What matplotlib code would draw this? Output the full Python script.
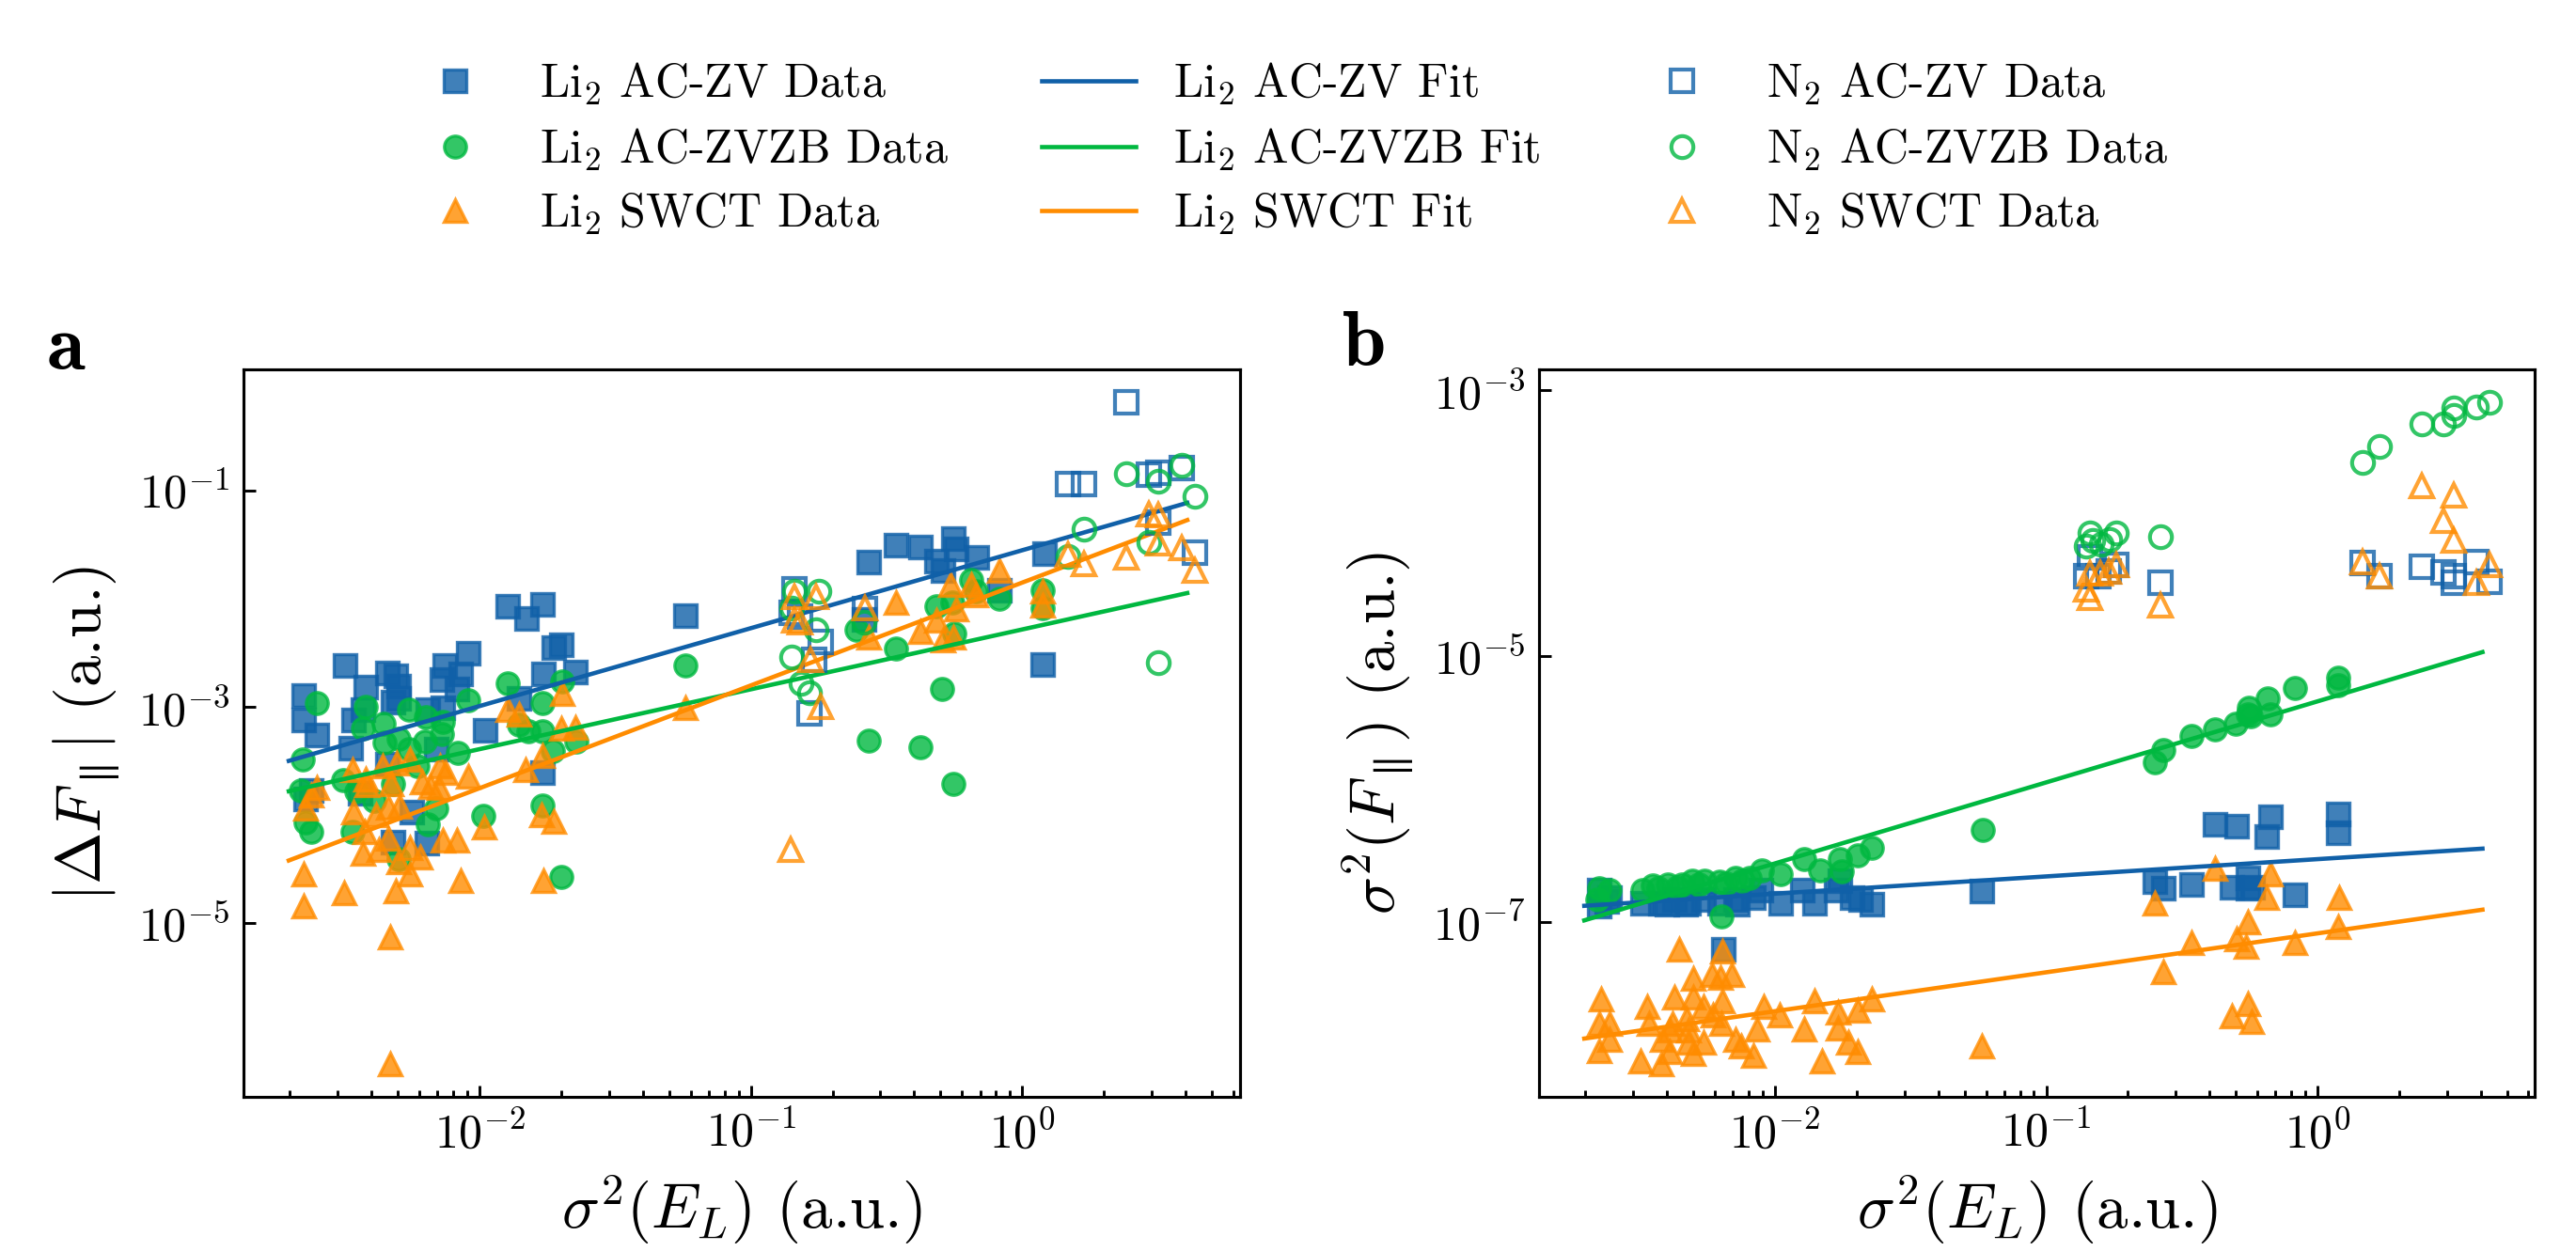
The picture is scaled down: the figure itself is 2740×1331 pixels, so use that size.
import numpy as np
import matplotlib
matplotlib.use("Agg")
import matplotlib.pyplot as plt
from matplotlib.ticker import NullLocator, LogFormatterSciNotation, FixedLocator

plt.rcParams.update({
    "font.family": "serif",
    "font.serif": ["cmr10"],
    "mathtext.fontset": "cm",
    "axes.formatter.use_mathtext": True,
})

# ---------------- data (log10 of x = sigma^2(E_L), log10 of y) ----------------
# Panel a : |Delta F_par|
a_li2_zv = [(-1.897,-2.072),(-1.828,-2.18),(-1.769,-2.05),(-1.24,-2.16),(-1.727,-2.45),(-1.70,-2.43),
            (-1.766,-2.70),(-1.646,-2.68),(-2.042,-2.51),(-2.128,-2.62),(-2.07,-2.70),(-2.14,-2.75),
            (-2.083,-2.84),(-2.495,-2.62),(-2.34,-2.69),(-2.31,-2.71),(-2.42,-2.82),(-2.30,-2.81),
            (-2.647,-2.90),(-2.32,-2.96),(-2.30,-2.92),(-2.43,-3.03),(-2.19,-3.03),(-2.136,-3.01),
            (-1.855,-2.92),(-2.65,-3.12),(-2.60,-3.26),(-2.465,-3.12),(-1.98,-3.22),(-2.476,-3.38),
            (-2.16,-3.39),(-1.769,-3.61),(-2.62,-3.77),(-2.64,-3.85),(-2.44,-3.80),(-2.25,-3.97),
            (-2.32,-4.25),(-2.195,-4.26),(-2.34,-3.53),(-0.566,-1.666),(-0.465,-1.507),(-0.374,-1.527),
            (-0.254,-1.449),(-0.242,-1.545),(-0.315,-1.652),(-0.292,-1.739),(-0.169,-1.623),
            (0.081,-1.588),(-0.083,-1.927),(0.075,-2.609),(-0.584,-2.19)]
a_li2_zvzb = [(-2.60,-2.97),(-2.42,-3.00),(-2.26,-3.03),(-2.354,-3.16),(-2.43,-3.20),(-2.198,-3.10),
              (-2.135,-3.14),(-2.14,-3.25),(-2.042,-2.94),(-1.897,-2.78),(-1.769,-2.97),(-1.696,-2.77),
              (-1.855,-3.17),(-1.82,-3.23),(-1.77,-3.23),(-1.24,-2.62),(-1.643,-3.32),(-1.73,-3.41),
              (-2.08,-3.43),(-2.651,-3.49),(-2.502,-3.68),(-2.456,-3.78),(-2.66,-3.77),(-2.64,-4.07),
              (-2.62,-4.16),(-2.47,-4.16),(-2.39,-3.87),(-2.16,-3.94),(-2.19,-4.09),(-2.30,-4.41),
              (-1.987,-4.01),(-1.77,-3.91),(-1.70,-4.57),(-2.26,-3.39),(-2.35,-3.33),(-2.30,-3.30),
              (-2.20,-3.32),(-2.23,-3.55),(-2.32,-3.71),(-0.61,-2.29),(-0.466,-2.46),(-0.317,-2.07),
              (-0.258,-2.04),(-0.25,-2.32),(-0.189,-1.826),(-0.084,-2.00),(0.075,-1.927),(0.075,-2.087),
              (-0.295,-2.84),(-0.566,-3.31),(-0.375,-3.37),(-0.254,-3.71),(-0.17,-1.93)]
a_li2_swct = [(-1.696,-2.88),(-1.898,-3.03),(-1.855,-3.07),(-1.24,-3.01),(-1.70,-3.20),(-1.646,-3.19),
              (-2.469,-3.58),(-2.42,-3.67),(-2.357,-3.55),(-2.304,-3.52),(-2.258,-3.49),(-2.416,-3.72),
              (-2.325,-3.71),(-2.213,-3.70),(-2.18,-3.74),(-2.145,-3.55),(-2.125,-3.61),(-2.042,-3.64),
              (-2.60,-3.75),(-2.62,-3.82),(-2.64,-3.94),(-2.465,-3.97),(-2.38,-4.00),(-2.335,-3.93),
              (-2.295,-3.92),(-2.425,-4.16),(-2.335,-4.22),(-2.135,-4.23),(-2.082,-4.23),(-2.256,-4.30),
              (-2.22,-4.39),(-2.43,-4.36),(-2.37,-4.32),(-2.30,-4.43),(-2.256,-4.55),(-2.65,-4.55),
              (-2.50,-4.72),(-2.31,-4.70),(-2.07,-4.61),(-1.766,-4.61),(-2.65,-4.84),(-2.33,-5.13),
              (-2.33,-6.30),(-1.984,-4.11),(-1.83,-3.58),(-1.77,-3.45),(-1.773,-4.00),(-1.727,-4.06),
              (-2.15,-3.75),(-0.466,-2.04),(-0.375,-2.31),(-0.317,-2.20),(-0.293,-2.38),(-0.254,-2.36),
              (-0.245,-2.10),(-0.263,-1.87),(-0.189,-1.87),(-0.17,-1.97),(-0.084,-1.74),(0.075,-1.93),
              (0.075,-2.06),(-0.566,-2.36)]
a_n2_zv = [(-0.839,-1.913),(-0.851,-2.13),(-0.82,-2.17),(-0.741,-2.405),(-0.766,-2.565),(-0.784,-3.06),
           (-0.578,-2.10),(0.169,-0.94),(0.229,-0.94),(0.385,-0.188),(0.466,-0.855),(0.502,-0.84),
           (0.588,-0.797),(0.502,-1.30),(0.636,-1.58)]
a_n2_zvzb = [(-0.839,-1.93),(-0.851,-2.087),(-0.748,-1.93),(-0.76,-2.29),(-0.851,-2.54),(-0.815,-2.78),
             (-0.784,-2.87),(-0.584,-2.22),(0.169,-1.61),(0.229,-1.36),(0.385,-0.846),(0.466,-1.48),
             (0.502,-0.913),(0.588,-0.768),(0.636,-1.058),(0.502,-2.59)]
a_n2_swct = [(-0.839,-1.985),(-0.839,-2.20),(-0.76,-1.985),(-0.82,-2.22),(-0.78,-2.565),(-0.741,-3.00),
             (-0.578,-2.087),(-0.853,-4.32),(0.169,-1.59),(0.229,-1.68),(0.385,-1.62),(0.466,-1.217),
             (0.502,-1.23),(0.502,-1.49),(0.588,-1.536),(0.636,-1.74)]

# Panel b : sigma^2(F_par)
b_li2_zv = [(-2.649,-6.76),(-2.61,-6.82),(-2.649,-6.88),(-2.49,-6.86),(-2.424,-6.86),(-2.371,-6.83),
            (-2.318,-6.86),(-2.265,-6.83),(-2.206,-6.86),(-2.146,-6.83),(-2.08,-6.82),(-2.053,-6.76),
            (-1.981,-6.86),(-1.90,-6.76),(-1.855,-6.86),(-1.775,-6.76),(-1.762,-6.69),(-1.716,-6.82),
            (-1.683,-6.83),(-1.643,-6.87),(-1.239,-6.77),(-2.192,-7.21),(-2.62,-6.85),(-2.40,-6.87),
            (-2.33,-6.87),(-2.14,-6.87),(-0.599,-6.70),(-0.568,-6.75),(-0.466,-6.72),(-0.377,-6.27),
            (-0.297,-6.28),(-0.173,-6.21),(-0.188,-6.36),(-0.317,-6.74),(-0.255,-6.67),(-0.255,-6.75),
            (-0.24,-6.74),(-0.083,-6.80),(0.078,-6.19),(0.075,-6.33)]
b_li2_zvzb = [(-2.649,-6.75),(-2.61,-6.76),(-2.655,-6.83),(-2.49,-6.76),(-2.45,-6.73),(-2.397,-6.72),
              (-2.344,-6.72),(-2.305,-6.69),(-2.26,-6.69),(-2.206,-6.70),(-2.146,-6.67),(-2.093,-6.67),
              (-2.047,-6.61),(-1.981,-6.64),(-2.199,-6.96),(-1.894,-6.53),(-1.835,-6.61),(-1.762,-6.53),
              (-1.755,-6.62),(-1.696,-6.50),(-1.643,-6.44),(-1.235,-6.31),(-2.43,-6.75),(-2.36,-6.74),
              (-2.28,-6.72),(-2.18,-6.71),(-2.12,-6.69),(-0.599,-5.80),(-0.568,-5.71),(-0.466,-5.60),
              (-0.377,-5.55),(-0.303,-5.51),(-0.255,-5.44),(-0.253,-5.39),(-0.245,-5.45),(-0.185,-5.32),
              (-0.173,-5.44),(-0.083,-5.24),(0.075,-5.16),(0.078,-5.22)]
b_li2_swct = [(-2.355,-7.21),(-2.194,-7.22),(-2.302,-7.43),(-2.232,-7.40),(-2.20,-7.42),(-2.159,-7.40),
              (-2.642,-7.58),(-2.37,-7.57),(-2.302,-7.57),(-2.194,-7.60),(-2.265,-7.64),(-2.47,-7.64),
              (-2.043,-7.64),(-1.855,-7.60),(-1.643,-7.58),(-2.649,-7.77),(-2.61,-7.77),(-2.465,-7.77),
              (-2.378,-7.77),(-2.325,-7.73),(-2.23,-7.70),(-2.196,-7.77),(-1.984,-7.70),(-1.768,-7.68),
              (-1.696,-7.67),(-2.39,-7.82),(-2.32,-7.82),(-2.066,-7.81),(-1.894,-7.81),(-1.768,-7.80),
              (-2.61,-7.89),(-2.415,-7.89),(-2.32,-7.91),(-2.265,-7.91),(-2.146,-7.89),(-2.126,-7.94),
              (-2.649,-7.97),(-2.39,-7.98),(-2.30,-7.99),(-2.08,-8.01),(-1.729,-7.91),(-1.696,-7.98),
              (-2.497,-8.05),(-2.42,-8.07),(-1.828,-8.05),(-1.239,-7.94),(-0.377,-6.60),(-0.173,-6.64),
              (-0.599,-6.86),(-0.188,-6.82),(0.081,-6.82),(-0.255,-7.00),(-0.297,-7.13),(-0.466,-7.16),
              (-0.265,-7.19),(-0.083,-7.16),(0.075,-7.04),(-0.568,-7.38),(-0.317,-7.71),(-0.255,-7.62),
              (-0.244,-7.75)]
b_n2_zv = [(-0.84,-4.26),(-0.852,-4.40),(-0.808,-4.40),(-0.741,-4.31),(-0.77,-4.36),(-0.58,-4.45),
           (0.167,-4.30),(0.229,-4.40),(0.386,-4.33),(0.466,-4.37),(0.503,-4.40),(0.503,-4.45),
           (0.587,-4.29),(0.634,-4.44)]
b_n2_zvzb = [(-0.84,-4.07),(-0.852,-4.17),(-0.83,-4.13),(-0.797,-4.16),(-0.766,-4.12),(-0.741,-4.07),
             (-0.58,-4.10),(0.167,-3.54),(0.229,-3.42),(0.386,-3.25),(0.466,-3.25),(0.503,-3.19),
             (0.503,-3.13),(0.587,-3.125),(0.634,-3.09)]
b_n2_swct = [(-0.84,-4.38),(-0.852,-4.50),(-0.84,-4.56),(-0.80,-4.38),(-0.77,-4.36),(-0.741,-4.31),
             (-0.58,-4.62),(0.167,-4.29),(0.229,-4.40),(0.386,-3.72),(0.503,-3.79),(0.466,-3.98),
             (0.503,-4.13),(0.587,-4.45),(0.634,-4.31)]

# Power-law fits: log10(y) = slope * log10(x) + intercept  (zv, zvzb, swct)
fit_x_range = [1.98e-3, 4.06]
a_fit_slope = [0.72, 0.553, 0.95]
a_fit_intercept = [-1.554, -2.286, -1.853]
b_fit_slope = [0.13, 0.610, 0.293]
b_fit_intercept = [-6.529, -5.341, -7.088]

names = ["AC-ZV", "AC-ZVZB", "SWCT"]
colors = ["#1060a8", "#00b840", "#ff8c00"]
markers = ["s", "o", "^"]

# ---------------- figure ----------------
W, H = 2740, 1331
DPI = 300
fig = plt.figure(figsize=(W / DPI, H / DPI), dpi=DPI)
ax_a = fig.add_axes([259 / W, 1 - 1167 / H, 1060 / W, 774 / H])
ax_b = fig.add_axes([1637 / W, 1 - 1167 / H, 1059 / W, 774 / H])

def xy(pairs):
    arr = np.array(pairs, dtype=float)
    return 10 ** arr[:, 0], 10 ** arr[:, 1]

MS = 5.6
def draw(ax, li2, n2, slopes, intercepts):
    for pts, c, m, n in zip(li2, colors, markers, names):
        x, y = xy(pts)
        ax.plot(x, y, ls="none", marker=m, ms=MS, mfc=c, mec=c, mew=0.8, alpha=0.8,
                label=r"Li$_2$ %s Data" % n)
    xf = np.array(fit_x_range)
    for s, b, c, n in zip(slopes, intercepts, colors, names):
        ax.plot(xf, 10 ** (s * np.log10(xf) + b), color=c, lw=1.1,
                label=r"Li$_2$ %s Fit" % n)
    for pts, c, m, n in zip(n2, colors, markers, names):
        x, y = xy(pts)
        ax.plot(x, y, ls="none", marker=m, ms=MS, mfc="none", mec=c, mew=1.0, alpha=0.8,
                label=r"N$_2$ %s Data" % n)
    ax.set_xscale("log")
    ax.set_yscale("log")

draw(ax_a, [a_li2_zv, a_li2_zvzb, a_li2_swct], [a_n2_zv, a_n2_zvzb, a_n2_swct],
     a_fit_slope, a_fit_intercept)
draw(ax_b, [b_li2_zv, b_li2_zvzb, b_li2_swct], [b_n2_zv, b_n2_zvzb, b_n2_swct],
     b_fit_slope, b_fit_intercept)

ax_a.yaxis.set_major_locator(FixedLocator([1e-5, 1e-3, 1e-1]))
ax_b.yaxis.set_major_locator(FixedLocator([1e-7, 1e-5, 1e-3]))
for ax in (ax_a, ax_b):
    ax.yaxis.set_major_formatter(LogFormatterSciNotation())
    ax.yaxis.set_minor_locator(NullLocator())
    ax.tick_params(which="both", direction="in", top=False, right=False,
                   labelsize=12, width=0.7, colors="black")
    ax.tick_params(which="major", length=3.0)
    ax.tick_params(which="minor", length=1.6)
    for sp in ax.spines.values():
        sp.set_linewidth(0.75)
    ax.set_xlabel(r"$\sigma^2(E_L)$ (a.u.)", fontsize=16, labelpad=4)

ax_a.set_ylabel(r"$|\Delta F_{\parallel}|$ (a.u.)", fontsize=16, labelpad=4)
ax_b.set_ylabel(r"$\sigma^2(F_{\parallel})$ (a.u.)", fontsize=16, labelpad=4)

fig.text(70 / W, 1 - 372 / H, r"$\mathbf{a}$", fontsize=20, ha="center", va="center")
fig.text(1450 / W, 1 - 368 / H, r"$\mathbf{b}$", fontsize=20, ha="center", va="center")

handles, labels = ax_a.get_legend_handles_labels()
fig.legend(handles, labels, loc="upper center", bbox_to_anchor=(0.5, 0.985), ncol=3,
           frameon=False, fontsize=12, labelspacing=0.4, columnspacing=2.0,
           handlelength=2.0, handletextpad=0.8)

fig.savefig("out.png", dpi=DPI)
